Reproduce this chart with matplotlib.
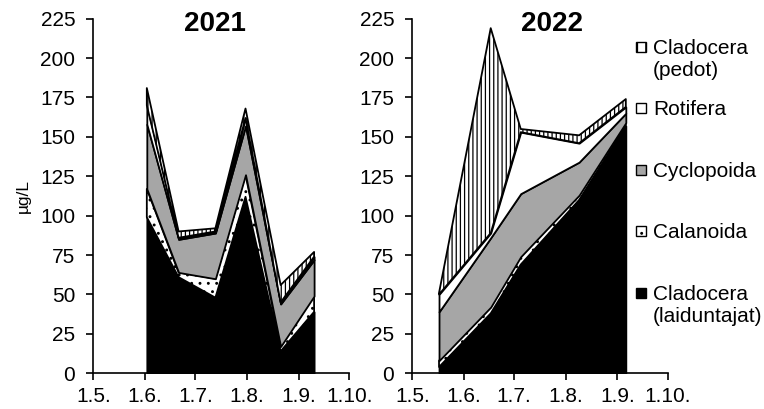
import numpy as np
import pandas as pd
import matplotlib
matplotlib.use("Agg")
import matplotlib.pyplot as plt
from matplotlib.patches import Rectangle

plt.rcParams['font.family'] = ['Liberation Sans', 'DejaVu Sans']
plt.rcParams['hatch.linewidth'] = 0.9

# series order = stacking order (bottom -> top)
legend_labels = ['Cladocera\n(laiduntajat)', 'Calanoida', 'Cyclopoida', 'Rotifera', 'Cladocera\n(pedot)']
colors = ['black', 'white', '#a6a6a6', 'white', 'white']
hatches = [None, '..', None, None, '||||']

dates_2021 = ['2021-06-02', '2021-06-21', '2021-07-13', '2021-07-31', '2021-08-21', '2021-09-10']
clad_lai_2021 = [99, 61, 48, 112, 14, 39]
calan_2021 = [18, 3, 12, 14, 3, 10]
cyclo_2021 = [41, 21, 29, 31, 27, 23]
roti_2021 = [12, 1, 1, 5, 1, 2]
clad_ped_2021 = [11, 4, 2, 6, 11, 3]

dates_2022 = ['2022-05-17', '2022-06-17', '2022-07-05', '2022-08-09', '2022-09-06']
clad_lai_2022 = [4, 38, 69, 110, 157]
calan_2022 = [4, 4, 5, 3, 2]
cyclo_2022 = [31, 44, 40, 21, 6]
roti_2022 = [11, 3, 39, 12, 4]
clad_ped_2022 = [1, 130, 2, 5, 5]

month_days = ['05-01', '06-01', '07-01', '08-01', '09-01', '10-01']
month_labels = ['1.5.', '1.6.', '1.7.', '1.8.', '1.9.', '1.10.']
yticks = [0, 25, 50, 75, 100, 125, 150, 175, 200, 225]


def doy(dates):
    return pd.to_datetime(dates).dayofyear.values


def panel(ax, year, dates, series):
    x = doy(dates)
    polys = ax.stackplot(x, *series, colors=colors, edgecolor='black', linewidth=1.3)
    for p, h in zip(polys, hatches):
        if h:
            p.set_hatch(h)
    mt = doy(['%d-%s' % (year, m) for m in month_days])
    ax.set_xlim(mt[0], mt[-1])
    ax.set_ylim(0, 225)
    ax.set_xticks(mt)
    ax.set_xticklabels(month_labels)
    ax.set_yticks(yticks)
    for s in ['top', 'right']:
        ax.spines[s].set_visible(False)
    for s in ['left', 'bottom']:
        ax.spines[s].set_linewidth(1.2)
    ax.tick_params(axis='both', labelsize=15, length=5, width=1.2, direction='out')
    ax.tick_params(axis='y', pad=8)
    ax.tick_params(axis='x', pad=5)


fig = plt.figure(figsize=(7.64, 4.09), dpi=100)
ax1 = fig.add_axes([0.1221, 0.0873, 0.335, 0.867])
ax2 = fig.add_axes([0.5397, 0.0873, 0.334, 0.867])

panel(ax1, 2021, dates_2021, [clad_lai_2021, calan_2021, cyclo_2021, roti_2021, clad_ped_2021])
panel(ax2, 2022, dates_2022, [clad_lai_2022, calan_2022, cyclo_2022, roti_2022, clad_ped_2022])

ax1.text(0.475, 0.984, '2021', transform=ax1.transAxes, ha='center', va='center',
         fontsize=20, fontweight='bold')
ax2.text(0.549, 0.984, '2022', transform=ax2.transAxes, ha='center', va='center',
         fontsize=20, fontweight='bold')

ax1.set_ylabel('µg/L', fontsize=12.5)
ax1.yaxis.set_label_coords(-0.245, 0.5)

# legend, top entry first (as in the original)
W, H = 764.0, 409.0
entry_y = [46.7, 108, 170, 231, 293]  # marker centers, px from top
order = [4, 3, 2, 1, 0]
for yc, i in zip(entry_y, order):
    r = Rectangle((636 / W, 1 - (yc + 5) / H), 10 / W, 10 / H, transform=fig.transFigure,
                  facecolor=colors[i], edgecolor='black', linewidth=1.0,
                  hatch=('||' if hatches[i] == '||||' else hatches[i]))
    fig.add_artist(r)
    fig.text(653 / W, 1 - (yc - 8) / H, legend_labels[i], fontsize=15, va='top', ha='left',
             linespacing=1.2)

fig.savefig('out.png', dpi=100)
